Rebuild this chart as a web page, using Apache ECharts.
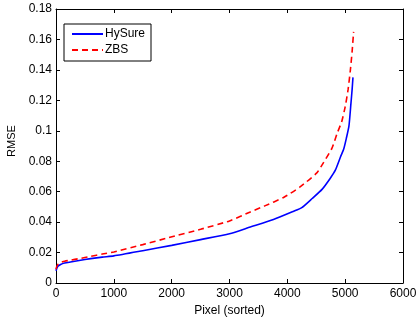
<!DOCTYPE html>
<html>
<head>
<meta charset="utf-8">
<script src="https://cdn.jsdelivr.net/npm/echarts@6/dist/echarts.min.js"></script>
<style>
  html, body { margin: 0; padding: 0; background: #fff; }
  #chart { width: 417px; height: 320px; }
</style>
</head>
<body>
<div id="chart"></div>
<script>
// Sorted per-pixel RMSE for the two methods
const hysureX = [0, 15, 40, 80, 150, 250, 400, 600, 800, 1000, 1500, 2000, 2500, 3000, 3360, 3760, 4100, 4250, 4430, 4600, 4740, 4830, 4920, 4975, 5020, 5065, 5100, 5120, 5135];
const hysureY = [0.0080, 0.0098, 0.0112, 0.0122, 0.0131, 0.0138, 0.0148, 0.0160, 0.0170, 0.0178, 0.0212, 0.0247, 0.0285, 0.0324, 0.0368, 0.0417, 0.0470, 0.0495, 0.0555, 0.0615, 0.0687, 0.0741, 0.0829, 0.0880, 0.0950, 0.1030, 0.1180, 0.1270, 0.1351];

const zbsX = [0, 15, 40, 80, 150, 250, 400, 600, 800, 1000, 1500, 1950, 2500, 3000, 3360, 3600, 3935, 4220, 4510, 4580, 4770, 4860, 4940, 5000, 5050, 5090, 5120, 5146];
const zbsY = [0.0090, 0.0110, 0.0125, 0.0135, 0.0143, 0.0150, 0.0160, 0.0175, 0.0190, 0.0204, 0.0252, 0.0298, 0.0353, 0.0408, 0.0467, 0.0505, 0.0562, 0.0631, 0.0723, 0.0763, 0.0884, 0.0982, 0.1060, 0.1157, 0.1270, 0.1399, 0.1520, 0.1650];

const seriesNames = ['HySure', 'ZBS'];

const pairs = (xs, ys) => xs.map((x, i) => [x, ys[i]]);

const FONT = 'Liberation Sans, Arial, Helvetica, sans-serif';
const tickStyle = { show: true, inside: true, length: 4, lineStyle: { color: '#000', width: 1 } };
const lineAxis = { show: true, onZero: false, lineStyle: { color: '#000', width: 1 } };
const labelStyle = { color: '#000', fontFamily: FONT, fontSize: 12 };

const chart = echarts.init(document.getElementById('chart'), null, { renderer: 'canvas' });
chart.setOption({
  animation: false,
  backgroundColor: '#fff',
  grid: { left: 56, right: 14, top: 9, bottom: 37, containLabel: false, outerBoundsMode: 'none' },
  legend: {
    orient: 'vertical',
    left: 64,
    top: 24,
    data: seriesNames,
    backgroundColor: '#fff',
    borderColor: '#000',
    borderWidth: 1,
    borderRadius: 0,
    padding: [4, 6, 5, 7],
    itemGap: 4,
    itemWidth: 31,
    itemHeight: 13,
    itemStyle: { color: 'rgba(0,0,0,0)', borderWidth: 0, opacity: 0 },
    textStyle: { color: '#000', fontFamily: FONT, fontSize: 12, padding: [0, 0, 0, -3] }
  },
  xAxis: [
    {
      type: 'value', min: 0, max: 6000, interval: 1000,
      name: 'Pixel (sorted)', nameLocation: 'middle', nameGap: 20,
      nameTextStyle: labelStyle,
      axisLine: lineAxis, axisTick: tickStyle,
      axisLabel: Object.assign({ margin: 5, formatter: v => String(v) }, labelStyle),
      splitLine: { show: false }
    },
    {
      type: 'value', position: 'top', min: 0, max: 6000, interval: 1000,
      axisLine: lineAxis, axisTick: tickStyle,
      axisLabel: { show: false }, splitLine: { show: false }
    }
  ],
  yAxis: [
    {
      type: 'value', min: 0, max: 0.18, interval: 0.02,
      name: 'RMSE', nameLocation: 'middle', nameGap: 28,
      nameTextStyle: { color: '#000', fontFamily: FONT, fontSize: 11, padding: [0, 0, 0, 10] },
      axisLine: lineAxis, axisTick: tickStyle,
      axisLabel: Object.assign({ margin: 4, formatter: v => String(parseFloat(v.toFixed(2))) }, labelStyle),
      splitLine: { show: false }
    },
    {
      type: 'value', position: 'right', min: 0, max: 0.18, interval: 0.02,
      axisLine: lineAxis, axisTick: tickStyle,
      axisLabel: { show: false }, splitLine: { show: false }
    }
  ],
  series: [
    {
      name: seriesNames[0], type: 'line', data: pairs(hysureX, hysureY),
      symbol: 'none', smooth: 0.2,
      lineStyle: { color: '#0000ff', width: 1.6, type: 'solid' },
      itemStyle: { color: '#0000ff' }
    },
    {
      name: seriesNames[1], type: 'line', data: pairs(zbsX, zbsY),
      symbol: 'none', smooth: 0.2,
      lineStyle: { color: '#ff0000', width: 1.6, type: [6, 4] },
      itemStyle: { color: '#ff0000' }
    }
  ]
});
</script>
</body>
</html>
